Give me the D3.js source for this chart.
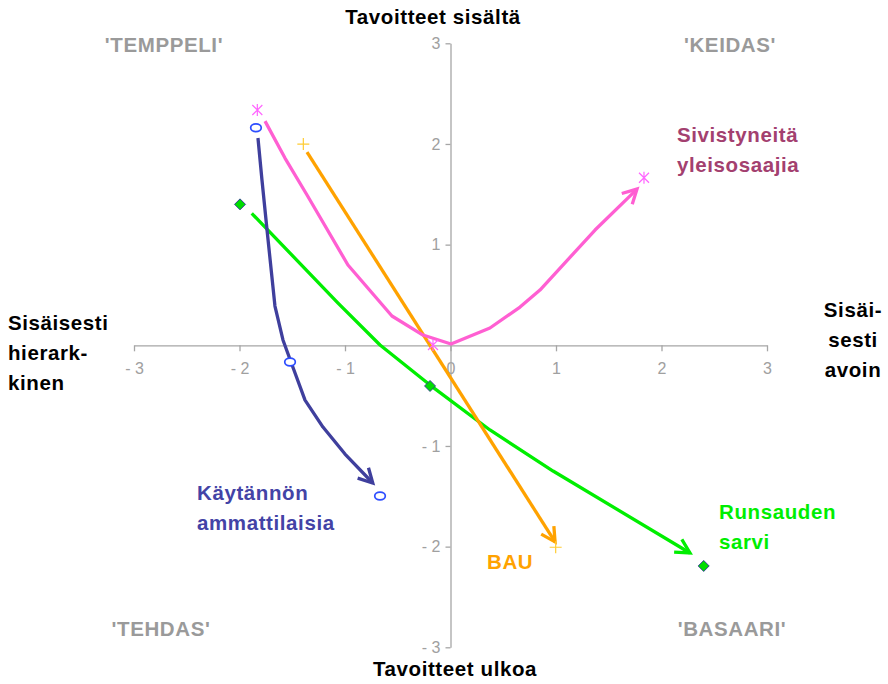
<!DOCTYPE html>
<html>
<head>
<meta charset="utf-8">
<script src="https://cdn.jsdelivr.net/npm/d3@7"></script>
<style>
  html, body { margin: 0; padding: 0; background: #fff; }
  svg { display: block; font-family: "Liberation Sans", Arial, sans-serif; }
</style>
</head>
<body>
<svg id="chart" width="888" height="684"></svg>
<script>
// ---------- DATA ----------
const axisTicks = [-3, -2, -1, 0, 1, 2, 3];

// series names
const seriesNames = ["Käytännön ammattilaisia", "Sivistyneitä yleisosaajia", "BAU", "Runsauden sarvi"];

// marker points (data units)
const blueMarkers   = [[-1.844, 2.161], [-1.521, -0.166], [-0.668, -1.497]];
const pinkMarkers   = [[-1.831, 2.337], [-0.166, 0.003], [1.834, 1.664]];
const orangeMarkers = [[-1.395, 1.999], [0.997, -2.006]];
const greenMarkers  = [[-1.995, 1.400], [-0.194, -0.404], [2.400, -2.192]];

// arrow paths (data units)
const bluePath = [[-1.825, 2.059], [-1.787, 1.642], [-1.739, 1.145], [-1.664, 0.390], [-1.588, 0.053],
                  [-1.512, -0.166], [-1.379, -0.544], [-1.209, -0.812], [-1.0, -1.080], [-0.737, -1.368]];
const pinkPath = [[-1.758, 2.227], [-1.569, 1.860], [-1.360, 1.493], [-0.972, 0.798], [-0.555, 0.291],
                  [-0.261, 0.102], [0.005, 0.013], [0.374, 0.172], [0.659, 0.380], [0.848, 0.549],
                  [1.370, 1.145], [1.768, 1.552]];
const orangePath = [[-1.360, 1.920], [0.991, -1.953]];
const greenPath = [[-1.884, 1.311], [-1.066, 0.420], [-0.668, 0.003], [-0.194, -0.395], [0.374, -0.841],
                   [0.972, -1.249], [2.270, -2.063]];

// texts
const quadrantLabels = ["'TEMPPELI'", "'KEIDAS'", "'TEHDAS'", "'BASAARI'"];
const axisTitleTop = "Tavoitteet sisältä";
const axisTitleBottom = "Tavoitteet ulkoa";
const axisTitleLeft = ["Sisäisesti", "hierark-", "kinen"];
const axisTitleRight = ["Sisäi-", "sesti", "avoin"];

// ---------- LAYOUT / STYLE ----------
const svg = d3.select("#chart");
const x = d3.scaleLinear().domain([-3, 3]).range([134, 767]);
const y = d3.scaleLinear().domain([-3, 3]).range([647.3, 43.3]);
const axisGray = "#a6a6a6";
const tickGray = "#a0a0a0";
const fmt = d => d < 0 ? "- " + Math.abs(d) : String(d);

// X axis
const gx = svg.append("g").attr("transform", `translate(0,${y(0)})`)
  .call(d3.axisBottom(x).tickValues(axisTicks).tickSize(6).tickSizeOuter(0).tickPadding(11).tickFormat(fmt));
// Y axis
const gy = svg.append("g").attr("transform", `translate(${x(0)},0)`)
  .call(d3.axisLeft(y).tickValues(axisTicks.filter(d => d !== 0)).tickSize(5).tickSizeOuter(0).tickPadding(5).tickFormat(fmt));
[gx, gy].forEach(g => {
  g.select(".domain").attr("stroke", axisGray).attr("stroke-width", 1.3);
  g.selectAll(".tick line").attr("stroke", axisGray).attr("stroke-width", 1.3);
  g.selectAll(".tick text").attr("fill", tickGray).attr("font-size", 16)
    .attr("font-family", "'Liberation Sans', Arial, sans-serif");
});

// arrow markers
const defs = svg.append("defs");
function arrowMarker(id, color) {
  defs.append("marker").attr("id", id)
    .attr("markerUnits", "userSpaceOnUse")
    .attr("viewBox", "-17 -10 22 20")
    .attr("markerWidth", 22).attr("markerHeight", 20)
    .attr("refX", 0).attr("refY", 0)
    .attr("orient", "auto")
    .append("path")
    .attr("d", "M-14,-7.5 L0,0 L-14,7.5")
    .attr("fill", "none").attr("stroke", color).attr("stroke-width", 3.3)
    .attr("stroke-linejoin", "miter").attr("stroke-linecap", "butt");
}

const line = d3.line().x(d => x(d[0])).y(d => y(d[1]));
const paths = [
  { data: greenPath,  color: "#00ee00", id: "aGreen" },
  { data: orangePath, color: "#ffa200", id: "aOrange" },
  { data: pinkPath,   color: "#ff5fd2", id: "aPink" },
  { data: bluePath,   color: "#3f3f9d", id: "aBlue" },
];
paths.forEach(p => {
  arrowMarker(p.id, p.color);
  svg.append("path").datum(p.data).attr("d", line)
    .attr("fill", "none").attr("stroke", p.color).attr("stroke-width", 3.3)
    .attr("stroke-linejoin", "round")
    .attr("marker-end", `url(#${p.id})`);
});

// markers
svg.append("g").selectAll("ellipse").data(blueMarkers).join("ellipse")
  .attr("cx", d => x(d[0])).attr("cy", d => y(d[1]))
  .attr("rx", 5.3).attr("ry", 3.9)
  .attr("fill", "#fff").attr("stroke", "#2d4dff").attr("stroke-width", 1.7);

svg.append("g").selectAll("path").data(pinkMarkers).join("path")
  .attr("transform", d => `translate(${x(d[0])},${y(d[1])})`)
  .attr("d", "M-5,-5L5,5M-5,5L5,-5M0,-6L0,6")
  .attr("stroke", "#ff66ff").attr("stroke-width", 1.2).attr("fill", "none");

svg.append("g").selectAll("path").data(orangeMarkers).join("path")
  .attr("transform", d => `translate(${x(d[0])},${y(d[1])})`)
  .attr("d", "M-6,0L6,0M0,-6L0,6")
  .attr("stroke", "#ffcc33").attr("stroke-width", 1.2).attr("fill", "none");

svg.append("g").selectAll("path").data(greenMarkers).join("path")
  .attr("transform", d => `translate(${x(d[0])},${y(d[1])})`)
  .attr("d", "M0,-5.5L5.5,0L0,5.5L-5.5,0Z")
  .attr("fill", "#00dd00").attr("stroke", "#333399").attr("stroke-width", 0.9);

// texts
function txt(s, px, py, color, anchor) {
  svg.append("text").attr("x", px).attr("y", py).text(s)
    .attr("fill", color).attr("font-size", 20.5).attr("font-weight", "bold")
    .attr("letter-spacing", 0.6).attr("text-anchor", anchor || "start");
}
function lines(arr, px, py, dy, color, anchor) {
  arr.forEach((s, i) => txt(s, px, py + i * dy, color, anchor));
}
const qGray = "#9a9a9a";
txt(quadrantLabels[0], 164, 52, qGray, "middle");
txt(quadrantLabels[1], 730, 52, qGray, "middle");
txt(quadrantLabels[2], 161, 636, qGray, "middle");
txt(quadrantLabels[3], 732, 636, qGray, "middle");
txt(axisTitleTop, 433, 24, "#000", "middle");
txt(axisTitleBottom, 455, 676, "#000", "middle");
lines(axisTitleLeft, 8, 330, 30, "#000", "start");
lines(axisTitleRight, 853, 317, 30, "#000", "middle");

lines(["Käytännön", "ammattilaisia"], 197, 500, 30, "#4343a6", "start");
lines(["Sivistyneitä", "yleisosaajia"], 677, 142, 30, "#a3406f", "start");
lines(["Runsauden", "sarvi"], 719, 519, 30, "#00ee00", "start");
txt("BAU", 487, 569, "#ffa200", "start");
</script>
</body>
</html>
